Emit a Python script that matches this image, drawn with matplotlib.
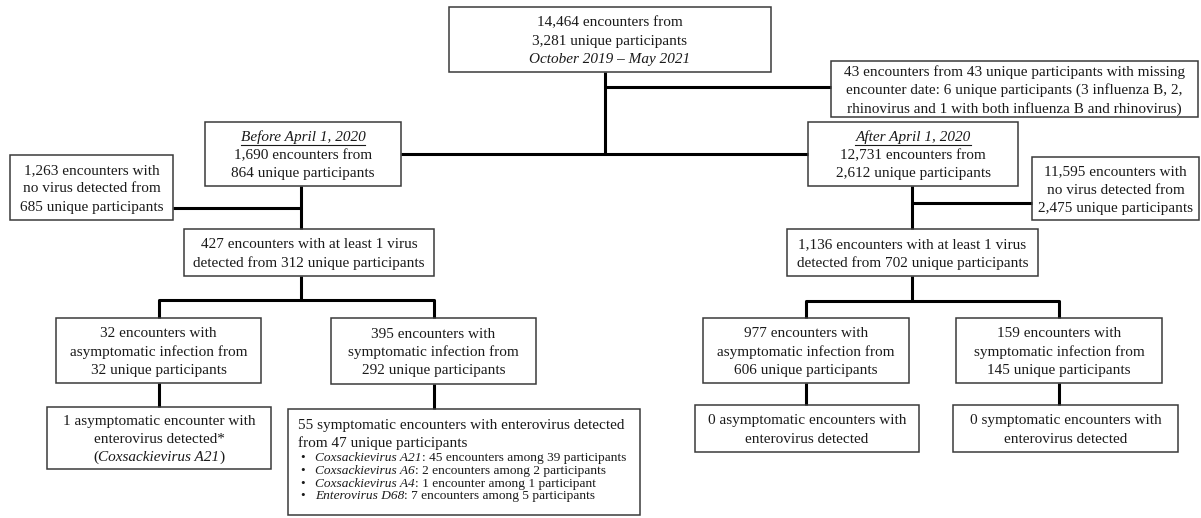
import matplotlib.pyplot as plt
from matplotlib.patches import Rectangle

plt.rcParams["font.family"] = ["Liberation Serif", "DejaVu Serif"]

W, H = 1201, 518
TEXT_COLOR = "#1a1a1a"
EDGE_COLOR = "#3a3a3a"
MAIN_SIZE = 11.0
BULLET_SIZE = 9.6
LINE_STEP = 18.2
BULLET_STEP = 12.8

# --- box texts (each line is a list of (text, style) runs) ---
total_lines = [[("14,464 encounters from", "normal")],
               [("3,281 unique participants", "normal")],
               [("October 2019 \u2013 May 2021", "italic")]]
missing_lines = [[("43 encounters from 43 unique participants with missing", "normal")],
                 [("encounter date: 6 unique participants (3 influenza B, 2,", "normal")],
                 [("rhinovirus and 1 with both influenza B and rhinovirus)", "normal")]]
before_lines = [[("Before April 1, 2020", "underline")],
                [("1,690 encounters from", "normal")],
                [("864 unique participants", "normal")]]
after_lines = [[("After April 1, 2020", "underline")],
               [("12,731 encounters from", "normal")],
               [("2,612 unique participants", "normal")]]
pre_novirus_lines = [[("1,263 encounters with", "normal")],
                     [("no virus detected from", "normal")],
                     [("685 unique participants", "normal")]]
post_novirus_lines = [[("11,595 encounters with", "normal")],
                      [("no virus detected from", "normal")],
                      [("2,475 unique participants", "normal")]]
pre_virus_lines = [[("427 encounters with at least 1 virus", "normal")],
                   [("detected from 312 unique participants", "normal")]]
post_virus_lines = [[("1,136 encounters with at least 1 virus", "normal")],
                    [("detected from 702 unique participants", "normal")]]
pre_asym_lines = [[("32 encounters with", "normal")],
                  [("asymptomatic infection from", "normal")],
                  [("32 unique participants", "normal")]]
pre_sym_lines = [[("395 encounters with", "normal")],
                 [("symptomatic infection from", "normal")],
                 [("292 unique participants", "normal")]]
post_asym_lines = [[("977 encounters with", "normal")],
                   [("asymptomatic infection from", "normal")],
                   [("606 unique participants", "normal")]]
post_sym_lines = [[("159 encounters with", "normal")],
                  [("symptomatic infection from", "normal")],
                  [("145 unique participants", "normal")]]
pre_asym_ev_lines = [[("1 asymptomatic encounter with", "normal")],
                     [("enterovirus detected*", "normal")],
                     [("(", "normal"), ("Coxsackievirus A21", "italic"), (")", "normal")]]
post_asym_ev_lines = [[("0 asymptomatic encounters with", "normal")],
                      [("enterovirus detected", "normal")]]
post_sym_ev_lines = [[("0 symptomatic encounters with", "normal")],
                     [("enterovirus detected", "normal")]]

pre_sym_ev_head = ["55 symptomatic encounters with enterovirus detected",
                   "from 47 unique participants"]
ev_types = ["Coxsackievirus A21", "Coxsackievirus A6", "Coxsackievirus A4", "Enterovirus D68"]
ev_counts = [": 45 encounters among 39 participants",
             ": 2 encounters among 2 participants",
             ": 1 encounter among 1 participant",
             ": 7 encounters among 5 participants"]

# --- layout: box corners in pixels (x0, y0, x1, y1) ---
boxes = {
    "total": (449, 7, 771, 72),
    "missing": (831, 61, 1198, 117),
    "before": (205, 122, 401, 186),
    "after": (808, 122, 1018, 186),
    "pre_novirus": (10, 155, 173, 220),
    "post_novirus": (1032, 157, 1199, 220),
    "pre_virus": (184, 229, 434, 276),
    "post_virus": (787, 229, 1038, 276),
    "pre_asym": (56, 318, 261, 383),
    "pre_sym": (331, 318, 536, 384),
    "post_asym": (703, 318, 909, 383),
    "post_sym": (956, 318, 1162, 383),
    "pre_asym_ev": (47, 407, 271, 469),
    "pre_sym_ev": (288, 409, 640, 515),
    "post_asym_ev": (695, 405, 919, 452),
    "post_sym_ev": (953, 405, 1178, 452),
}

fig = plt.figure(figsize=(W / 100, H / 100), dpi=100)
ax = fig.add_axes([0, 0, 1, 1])
ax.set_xlim(0, W)
ax.set_ylim(H, 0)
ax.axis("off")
renderer = fig.canvas.get_renderer()


def cx(key):
    x0, _, x1, _ = boxes[key]
    return (x0 + x1) / 2


def text_width(t):
    return t.get_window_extent(renderer).width


def draw_runs(x, y, runs, size, ha="center"):
    pieces = []
    for txt, style in runs:
        t = ax.text(0, y, txt, fontsize=size, color=TEXT_COLOR, va="center", ha="left",
                    fontstyle="italic" if style in ("italic", "underline") else "normal")
        pieces.append((t, style))
    total = sum(text_width(t) for t, _ in pieces)
    pos = x - total / 2 if ha == "center" else x
    for t, style in pieces:
        t.set_x(pos)
        w = text_width(t)
        if style == "underline":
            ax.plot([pos, pos + w], [y + 7.5, y + 7.5], color=TEXT_COLOR, lw=0.8)
        pos += w


def draw_box(key, lines=None):
    x0, y0, x1, y1 = boxes[key]
    ax.add_patch(Rectangle((x0, y0), x1 - x0, y1 - y0, fill=False,
                           edgecolor=EDGE_COLOR, lw=1.1, zorder=3))
    if lines:
        yc = (y0 + y1) / 2 + 1.5
        n = len(lines)
        for i, runs in enumerate(lines):
            draw_runs((x0 + x1) / 2, yc + (i - (n - 1) / 2) * LINE_STEP, runs, MAIN_SIZE)


def connect(points):
    xs, ys = zip(*points)
    ax.plot(xs, ys, color="black", lw=2.2, solid_capstyle="butt", zorder=2)


draw_box("total", total_lines)
draw_box("missing", missing_lines)
draw_box("before", before_lines)
draw_box("after", after_lines)
draw_box("pre_novirus", pre_novirus_lines)
draw_box("post_novirus", post_novirus_lines)
draw_box("pre_virus", pre_virus_lines)
draw_box("post_virus", post_virus_lines)
draw_box("pre_asym", pre_asym_lines)
draw_box("pre_sym", pre_sym_lines)
draw_box("post_asym", post_asym_lines)
draw_box("post_sym", post_sym_lines)
draw_box("pre_asym_ev", pre_asym_ev_lines)
draw_box("post_asym_ev", post_asym_ev_lines)
draw_box("post_sym_ev", post_sym_ev_lines)

# left-aligned box with bullet list
draw_box("pre_sym_ev")
sx0, sy0 = boxes["pre_sym_ev"][0], boxes["pre_sym_ev"][1]
for i, line in enumerate(pre_sym_ev_head):
    draw_runs(sx0 + 10, sy0 + 16 + i * 18, [(line, "normal")], MAIN_SIZE, ha="left")
for i, (name, rest) in enumerate(zip(ev_types, ev_counts)):
    yb = sy0 + 49 + i * BULLET_STEP
    ax.text(sx0 + 15, yb, "\u2022", fontsize=BULLET_SIZE, color=TEXT_COLOR, va="center", ha="center")
    draw_runs(sx0 + 27, yb, [(name, "italic"), (rest, "normal")], BULLET_SIZE, ha="left")

# connectors
top_x = 605
split_y = 154
connect([(top_x, boxes["total"][3]), (top_x, split_y)])
connect([(top_x, 87), (boxes["missing"][0], 87)])
connect([(boxes["before"][2], split_y), (boxes["after"][0], split_y)])

pre_x, post_x = 301, 912
connect([(pre_x, boxes["before"][3]), (pre_x, boxes["pre_virus"][1])])
connect([(boxes["pre_novirus"][2], 208), (pre_x, 208)])
connect([(post_x, boxes["after"][3]), (post_x, boxes["post_virus"][1])])
connect([(post_x, 203), (boxes["post_novirus"][0], 203)])

for parent, left, right, bar_y in [("pre_virus", "pre_asym", "pre_sym", 300),
                                   ("post_virus", "post_asym", "post_sym", 301)]:
    px = pre_x if parent == "pre_virus" else post_x
    connect([(px, boxes[parent][3]), (px, bar_y)])
    connect([(cx(left), boxes[left][1]), (cx(left), bar_y),
             (cx(right), bar_y), (cx(right), boxes[right][1])])

for parent, child in [("pre_asym", "pre_asym_ev"), ("pre_sym", "pre_sym_ev"),
                      ("post_asym", "post_asym_ev"), ("post_sym", "post_sym_ev")]:
    connect([(cx(parent), boxes[parent][3]), (cx(parent), boxes[child][1])])

fig.savefig("out.png", dpi=100)
